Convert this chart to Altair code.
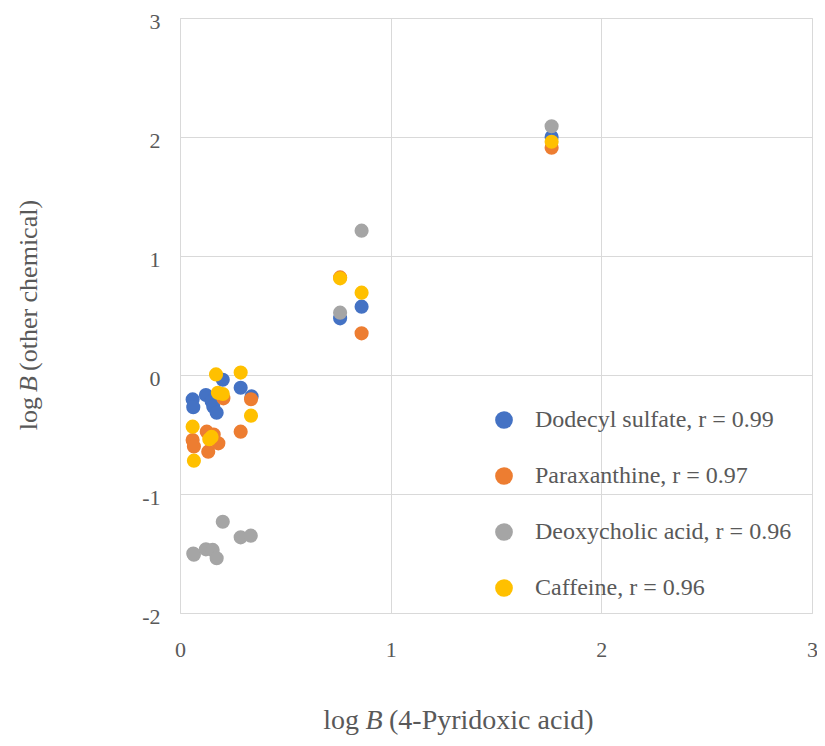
import altair as alt
import pandas as pd

series_names = [
    "Dodecyl sulfate, r = 0.99",
    "Paraxanthine, r = 0.97",
    "Deoxycholic acid, r = 0.96",
    "Caffeine, r = 0.96",
]
series_colors = ["#4472C4", "#ED7D31", "#A5A5A5", "#FFC000"]

# Dodecyl sulfate
ds_x = [0.060, 0.063, 0.123, 0.150, 0.158, 0.174, 0.203, 0.288, 0.340, 0.760, 0.862, 1.764]
ds_y = [-0.205, -0.270, -0.168, -0.220, -0.266, -0.317, -0.040, -0.107, -0.180, 0.476, 0.574, 2.000]
# Paraxanthine
px_x = [0.060, 0.066, 0.127, 0.134, 0.160, 0.182, 0.206, 0.288, 0.337, 0.760, 0.862, 1.764]
px_y = [-0.546, -0.600, -0.476, -0.644, -0.500, -0.574, -0.196, -0.476, -0.204, 0.820, 0.350, 1.910]
# Deoxycholic acid
dc_x = [0.063, 0.066, 0.123, 0.155, 0.174, 0.203, 0.288, 0.336, 0.760, 0.862, 1.764]
dc_y = [-1.500, -1.510, -1.465, -1.470, -1.540, -1.233, -1.364, -1.350, 0.524, 1.213, 2.090]
# Caffeine
cf_x = [0.060, 0.066, 0.139, 0.150, 0.171, 0.180, 0.203, 0.288, 0.337, 0.760, 0.862, 1.764]
cf_y = [-0.434, -0.720, -0.540, -0.520, 0.005, -0.150, -0.160, 0.020, -0.342, 0.812, 0.692, 1.960]

x_ticks = [0, 1, 2, 3]
y_ticks = [-2, -1, 0, 1, 2, 3]

rows = []
for order, (name, xs, ys) in enumerate(zip(series_names, [ds_x, px_x, dc_x, cf_x], [ds_y, px_y, dc_y, cf_y])):
    for xv, yv in zip(xs, ys):
        rows.append({"x": xv, "y": yv, "series": name, "o": order})
df = pd.DataFrame(rows)

FONT = "Liberation Serif"
GREY = "#595959"

points = alt.Chart(df).mark_circle(size=200, opacity=1).encode(
    x=alt.X("x:Q", scale=alt.Scale(domain=[0, 3], nice=False),
            axis=alt.Axis(values=x_ticks, title=None, grid=True, gridColor="#d9d9d9",
                          domain=False, ticks=False, labelFont=FONT, labelFontSize=22,
                          labelColor=GREY, labelPadding=26, format="d", labelFlush=False)),
    y=alt.Y("y:Q", scale=alt.Scale(domain=[-2, 3], nice=False),
            axis=alt.Axis(values=y_ticks, title=None, grid=True, gridColor="#d9d9d9",
                          domain=False, ticks=False, labelFont=FONT, labelFontSize=22,
                          labelColor=GREY, labelPadding=20, labelOffset=3,
                          labelExpr="datum.value < 0 ? '-' + abs(datum.value) : '' + datum.value")),
    color=alt.Color("series:N", scale=alt.Scale(domain=series_names, range=series_colors),
                    legend=alt.Legend(title=None, orient="none", legendX=312, legendY=390,
                                      symbolType="circle", symbolSize=314, symbolStrokeWidth=0,
                                      labelFont=FONT, labelFontSize=24, labelColor=GREY,
                                      labelOffset=19, rowPadding=32, labelLimit=400)),
    order=alt.Order("o:Q"),
)


def tpart(text, xpos, align, style, ypos, size, angle=0):
    return alt.Chart(pd.DataFrame({"t": [text]})).mark_text(
        font=FONT, fontSize=size, color=GREY, align=align, fontStyle=style,
        baseline="alphabetic", angle=angle
    ).encode(text="t:N", x=alt.value(xpos), y=alt.value(ypos))


titles = [
    tpart("log", 179, "right", "normal", 711, 28),
    tpart("B", 194, "center", "italic", 711, 28),
    tpart("(4-Pyridoxic acid)", 209, "left", "normal", 711, 28),
    tpart("log", -143, "right", "normal", 366 + 13, 26, angle=270),
    tpart("B", -143, "center", "italic", 366, 26, angle=270),
    tpart("(other chemical)", -143, "left", "normal", 366 - 13, 26, angle=270),
]

chart = alt.layer(points, *titles).properties(
    width=632, height=595,
    autosize=alt.AutoSizeParams(type="none"),
    padding={"left": 172, "top": 10, "right": 5, "bottom": 125},
).configure_view(stroke=None).configure(background="white")

chart.save("out.html", embed_options={"renderer": "svg", "actions": False})
